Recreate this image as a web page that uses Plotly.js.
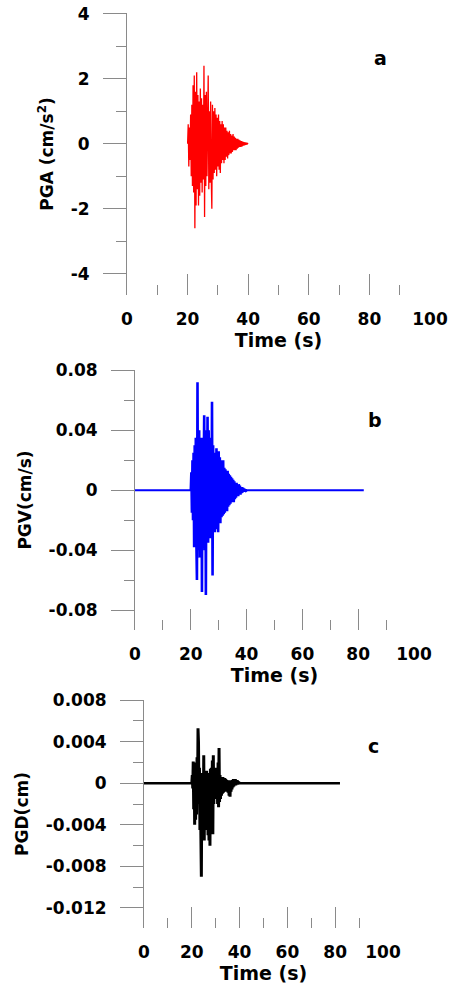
<!DOCTYPE html>
<html><head><meta charset="utf-8">
<script src="https://cdn.plot.ly/plotly-3.0.1.min.js"></script>
<style>html,body{margin:0;padding:0;background:#fff}#chart{width:449px;height:985px}</style>
</head><body><div id="chart"></div>
<script>
// ---- data ----
const startTime = 20;     // s, first sample of each record
const timeStep = 0.2;     // s, sample spacing

const pga = [0, 0.6, -0.7, 0.5, -0.5, 0.9, -1.0, 1.2, -1.3, 1.8,
  -1.5, 2.1, -2.6, 1.6, -1.9, 2.2, -1.4, 1.5, -1.9, 1.3,
  -1.6, 1.7, -1.2, 1.4, -1.5, 1.2, -1.1, 2.4, -2.25, 1.5,
  -1.3, 1.6, -1.0, 1.1, 2.1, -1.4, 1.0, -1.2, 1.3, -1.0,
  -2.0, 1.2, -1.1, 1.0, -0.9, 1.1, -0.8, 0.9, -1.0, 0.8,
  -0.7, 0.9, -0.8, 0.7, -0.9, 0.6, -0.6, 0.7, -0.5, 0.6,
  -0.6, 0.5, -0.5, 0.5, -0.4, 0.4, -0.45, 0.35, -0.35, 0.4,
  -0.3, 0.3, -0.3, 0.25, -0.25, 0.3, -0.2, 0.22, -0.2, 0.18,
  -0.2, 0.15, -0.15, 0.15, -0.12, 0.12, -0.1, 0.1, -0.1, 0.08,
  -0.08, 0.07, -0.06, 0.05, -0.05, 0.04, -0.03, 0.03, -0.02, 0.01, 0];

const pgv = [0, 0.012, -0.015, 0.02, -0.02, 0.025, -0.038, 0.03, -0.03, 0.035,
  -0.035, -0.06, 0.072, -0.04, 0.038, 0.04, -0.045, 0.035, -0.04, 0.03,
  -0.068, 0.035, -0.035, 0.03, 0.05, -0.04, 0.04, -0.07, 0.035, -0.03,
  0.049, -0.035, 0.04, -0.03, 0.03, -0.032, 0.035, -0.03, 0.059, -0.057,
  0.03, -0.025, 0.025, -0.028, 0.024, -0.022, 0.028, -0.026, 0.022, -0.028,
  0.026, -0.02, 0.022, -0.022, 0.02, -0.018, 0.018, -0.017, 0.02, -0.016,
  0.015, -0.015, 0.014, -0.013, 0.012, -0.014, 0.013, -0.011, 0.011, -0.01,
  0.01, -0.009, 0.009, -0.008, 0.008, -0.007, 0.007, -0.008, 0.006, -0.006,
  0.005, -0.005, 0.005, -0.004, 0.004, -0.004, 0.004, -0.003, 0.003, -0.003,
  0.002, -0.002, 0.002, -0.0015, 0.0015, -0.001, 0.001, -0.0008, 0.0005, -0.0003, 0];

const pgd = [0, 0.0008, -0.0005, 0.0021, -0.0025, 0.0015, -0.004, 0.0012, -0.0035, 0.002,
  -0.003, 0.0025, -0.002, 0.0053, 0.004, -0.0015, 0.0015, -0.0045, 0.001, -0.005,
  -0.009, 0.0005, -0.005, 0.001, -0.004, 0.0027, -0.0055, 0.0005, -0.0045, 0.0,
  -0.0035, 0.0012, -0.004, 0.0008, -0.005, 0.0004, -0.0055, 0.001, -0.006, 0.0014,
  -0.004, 0.0015, -0.003, 0.0022, -0.0049, 0.0027, -0.002, 0.0015, -0.0015, 0.0012,
  -0.0012, 0.001, -0.0013, 0.0015, -0.002, 0.002, -0.0023, 0.0034, -0.0018, 0.0008,
  -0.0015, 0.0006, -0.0012, 0.0005, -0.001, 0.0006, -0.0009, 0.0004, -0.0008, 0.0005,
  -0.0007, 0.0004, -0.0008, 0.0003, -0.0006, 0.0003, -0.0009, 0.0003, -0.0012, 0.0003,
  -0.0013, 0.0003, -0.0008, 0.0003, -0.0006, 0.0003, -0.0004, 0.0004, -0.0003, 0.0004,
  -0.0002, 0.0004, -0.0002, 0.0003, -0.0001, 0.0003, -0.0001, 0.0002, 0, 0.0001, 0];

const baselineTime = [0, 82];
const baselineValue = [0, 0];

const timeTickVals = [0, 20, 40, 60, 80, 100];
const timeTickText = ['0', '20', '40', '60', '80', '100'];
const pgaTickVals = [-4, -2, 0, 2, 4];
const pgaTickText = ['-4', '-2', '0', '2', '4'];
const pgvTickVals = [-0.08, -0.04, 0, 0.04, 0.08];
const pgvTickText = ['-0.08', '-0.04', '0', '0.04', '0.08'];
const pgdTickVals = [-0.012, -0.008, -0.004, 0, 0.004, 0.008];
const pgdTickText = ['-0.012', '-0.008', '-0.004', '0', '0.004', '0.008'];

const panelLabels = ['a', 'b', 'c'];
const yTitles = ['PGA (cm/s<sup>2</sup>)', 'PGV(cm/s)', 'PGD(cm)'];
const xTitle = 'Time (s)';

// ---- layout helpers ----
const W = 449, H = 985;
const F = 'DejaVu Sans, Arial, sans-serif';
const px = v => v / W;
const py = v => 1 - v / H;
const gray = '#8a8a8a';

function xAxis(left, right, anchor) {
  return {
    domain: [px(left), px(right)], anchor: anchor, range: [0, 100],
    showline: false, showgrid: false, zeroline: false,
    ticks: 'inside', ticklen: 21, tickwidth: 1, tickcolor: gray,
    tickmode: 'array', tickvals: timeTickVals, ticktext: timeTickText,
    tickfont: {family: F, size: 17, color: '#000', weight: 'bold'},
    ticklabelstandoff: 12,
    minor: {tickmode: 'linear', tick0: 0, dtick: 10, ticks: 'inside', ticklen: 10, tickwidth: 1, tickcolor: gray, showgrid: false},
    title: {text: xTitle, font: {family: F, size: 19, color: '#000', weight: 'bold'}, standoff: 2},
    automargin: false, fixedrange: true
  };
}
function yAxis(bottom, top, anchor, range, vals, text, minorDtick, title) {
  return {
    domain: [py(bottom), py(top)], anchor: anchor, range: range,
    showline: true, linecolor: gray, linewidth: 1,
    showgrid: false, zeroline: false,
    ticks: 'outside', ticklen: 23, tickwidth: 1, tickcolor: gray,
    tickmode: 'array', tickvals: vals, ticktext: text,
    tickfont: {family: F, size: 17, color: '#000', weight: 'bold'},
    ticklabelstandoff: 10,
    minor: {tickmode: 'linear', tick0: 0, dtick: minorDtick, ticks: 'outside', ticklen: 10, tickwidth: 1, tickcolor: gray, showgrid: false},
    title: {text: title, font: {family: F, size: 17, color: '#000', weight: 'bold'}, standoff: 12},
    automargin: false, fixedrange: true
  };
}

const traces = [
  {x0: startTime, dx: timeStep, y: pga, type: 'scatter', mode: 'lines', xaxis: 'x', yaxis: 'y',
   line: {color: '#ff0000', width: 1.3}, hoverinfo: 'skip'},
  {x: baselineTime, y: baselineValue, type: 'scatter', mode: 'lines', xaxis: 'x2', yaxis: 'y2',
   line: {color: '#0000ff', width: 2}, hoverinfo: 'skip'},
  {x0: startTime, dx: timeStep, y: pgv, type: 'scatter', mode: 'lines', xaxis: 'x2', yaxis: 'y2',
   line: {color: '#0000ff', width: 2.6}, hoverinfo: 'skip'},
  {x: baselineTime, y: baselineValue, type: 'scatter', mode: 'lines', xaxis: 'x3', yaxis: 'y3',
   line: {color: '#000000', width: 2.5}, hoverinfo: 'skip'},
  {x0: startTime, dx: timeStep, y: pgd, type: 'scatter', mode: 'lines', xaxis: 'x3', yaxis: 'y3',
   line: {color: '#000000', width: 3}, hoverinfo: 'skip'}
];

const letterPos = [[380, 58], [375, 420], [373, 746]];
const annotations = panelLabels.map((t, i) => ({
  text: t, xref: 'paper', yref: 'paper', x: px(letterPos[i][0]), y: py(letterPos[i][1]),
  xanchor: 'center', yanchor: 'middle', showarrow: false,
  font: {family: F, size: 19, color: '#000', weight: 'bold'}
}));

const layout = {
  width: W, height: H,
  margin: {l: 0, r: 0, t: 0, b: 0},
  paper_bgcolor: '#ffffff', plot_bgcolor: 'rgba(0,0,0,0)',
  showlegend: false,
  xaxis: xAxis(127, 430, 'y'),
  yaxis: yAxis(295, 13, 'x', [-4.65, 4.02], pgaTickVals, pgaTickText, 1, yTitles[0]),
  xaxis2: xAxis(135, 414, 'y2'),
  yaxis2: yAxis(630, 370, 'x2', [-0.0933, 0.0802], pgvTickVals, pgvTickText, 0.02, yTitles[1]),
  xaxis3: xAxis(144, 383, 'y3'),
  yaxis3: yAxis(928, 700, 'x3', [-0.01393, 0.00802], pgdTickVals, pgdTickText, 0.002, yTitles[2]),
  annotations: annotations
};

Plotly.newPlot('chart', traces, layout, {displayModeBar: false, staticPlot: true});
</script>
</body></html>
